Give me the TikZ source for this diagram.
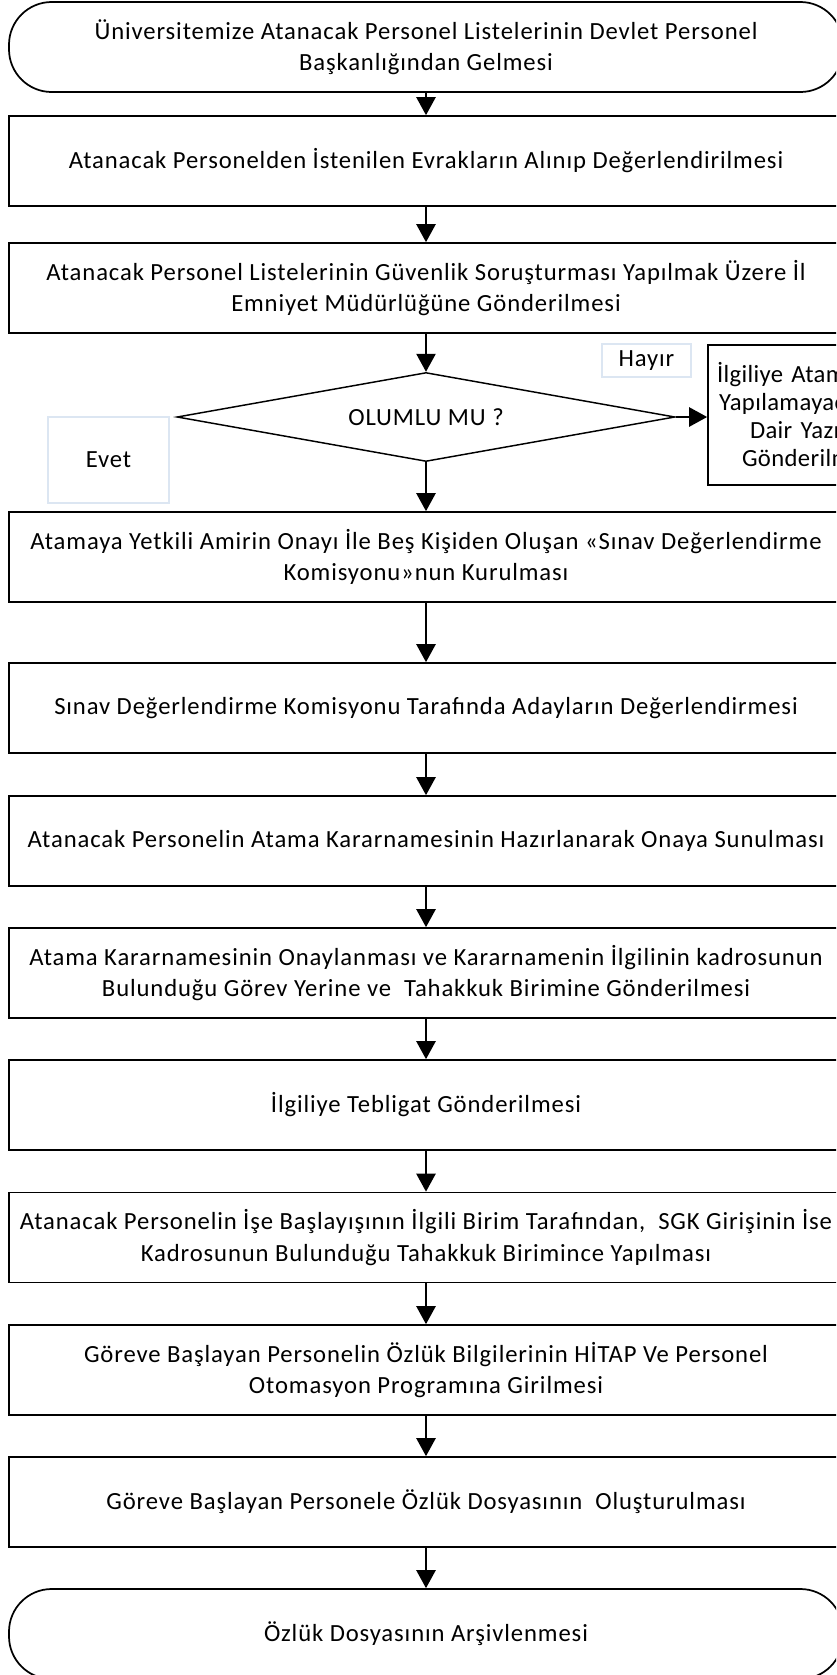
\documentclass[tikz,border=0pt]{standalone}
\usepackage{fontspec}
\setmainfont{Carlito}[LetterSpace=3.6]
\newfontfamily\rbfont{Carlito}[LetterSpace=1.5]
\usetikzlibrary{shapes.geometric,arrows.meta}
\definecolor{lightbord}{RGB}{220,230,242}
\begin{document}
\begin{tikzpicture}[x=0.75pt,y=-0.75pt,
  every node/.style={font=\fontsize{18.5pt}{23.5pt}\selectfont},
  proc/.style={draw, line width=1.3pt, minimum width=625.5pt, minimum height=67.5pt, inner sep=0pt, align=center},
  term/.style={proc, rounded corners=32pt},
  lbl/.style={draw=lightbord, line width=1pt, inner sep=0pt},
  arr/.style={line width=1.1pt, -{Triangle[length=13.5pt,width=14.5pt]}}]
\useasboundingbox (0,0) rectangle (836,1675);
\clip (0,0) rectangle (836,1675);

\node[term] (t1) at (426,47) {Üniversitemize Atanacak Personel Listelerinin Devlet Personel\\Başkanlığından Gelmesi};
\node[proc] (b2) at (426,161) {Atanacak Personelden İstenilen Evrakların Alınıp Değerlendirilmesi};
\node[proc] (b3) at (426,288) {Atanacak Personel Listelerinin Güvenlik Soruşturması Yapılmak Üzere İl\\Emniyet Müdürlüğüne Gönderilmesi};
\node[draw, shape=diamond, aspect=5.6, minimum width=373.5pt, minimum height=66.75pt, inner sep=0pt, line width=1.1pt] (d) at (426,417) {OLUMLU MU ?};
\node[lbl, minimum width=66.75pt, minimum height=24.75pt] (hayir) at (646.5,360.5) {Hayır};
\node[lbl, minimum width=90.75pt, minimum height=64.5pt] (evet) at (108.5,460) {Evet};
\node[draw, line width=1.3pt, minimum height=105pt, text width=139.5pt, inner xsep=6.75pt, inner ysep=0pt, align=left, font=\rbfont\fontsize{18.5pt}{21pt}\selectfont] (rb) at (810,415) {İlgiliye Atam\\\hspace*{1.5pt}Yapılamayac\\\hspace*{24.75pt}Dair Yazın\\\hspace*{18.75pt}Gönderilm};
\node[proc] (b4) at (426,557) {Atamaya Yetkili Amirin Onayı İle Beş Kişiden Oluşan «Sınav Değerlendirme\\Komisyonu»nun Kurulması};
\node[proc] (b5) at (426,708) {Sınav Değerlendirme Komisyonu Tarafında Adayların Değerlendirmesi};
\node[proc] (b6) at (426,841) {Atanacak Personelin Atama Kararnamesinin Hazırlanarak Onaya Sunulması};
\node[proc] (b7) at (426,973) {Atama Kararnamesinin Onaylanması ve Kararnamenin İlgilinin kadrosunun\\Bulunduğu Görev Yerine ve\ \ Tahakkuk Birimine Gönderilmesi};
\node[proc] (b8) at (426,1105) {İlgiliye Tebligat Gönderilmesi};
\node[proc] (b9) at (426,1237.5) {Atanacak Personelin İşe Başlayışının İlgili Birim Tarafından,\ \ SGK Girişinin İse\\Kadrosunun Bulunduğu Tahakkuk Birimince Yapılması};
\node[proc] (b10) at (426,1370) {Göreve Başlayan Personelin Özlük Bilgilerinin HİTAP Ve Personel\\Otomasyon Programına Girilmesi};
\node[proc] (b11) at (426,1502) {Göreve Başlayan Personele Özlük Dosyasının\ \ Oluşturulması};
\node[term] (t2) at (426,1634) {Özlük Dosyasının Arşivlenmesi};

\draw[arr] (t1.south) -- (b2.north);
\draw[arr] (b2.south) -- (b3.north);
\draw[arr] (b3.south) -- (d.north);
\draw[arr] (d.south) -- (b4.north);
\draw[arr] (d.east) -- (d.east -| rb.west);
\draw[arr] (b4.south) -- (b5.north);
\draw[arr] (b5.south) -- (b6.north);
\draw[arr] (b6.south) -- (b7.north);
\draw[arr] (b7.south) -- (b8.north);
\draw[arr] (b8.south) -- (b9.north);
\draw[arr] (b9.south) -- (b10.north);
\draw[arr] (b10.south) -- (b11.north);
\draw[arr] (b11.south) -- (t2.north);
\end{tikzpicture}
\end{document}
